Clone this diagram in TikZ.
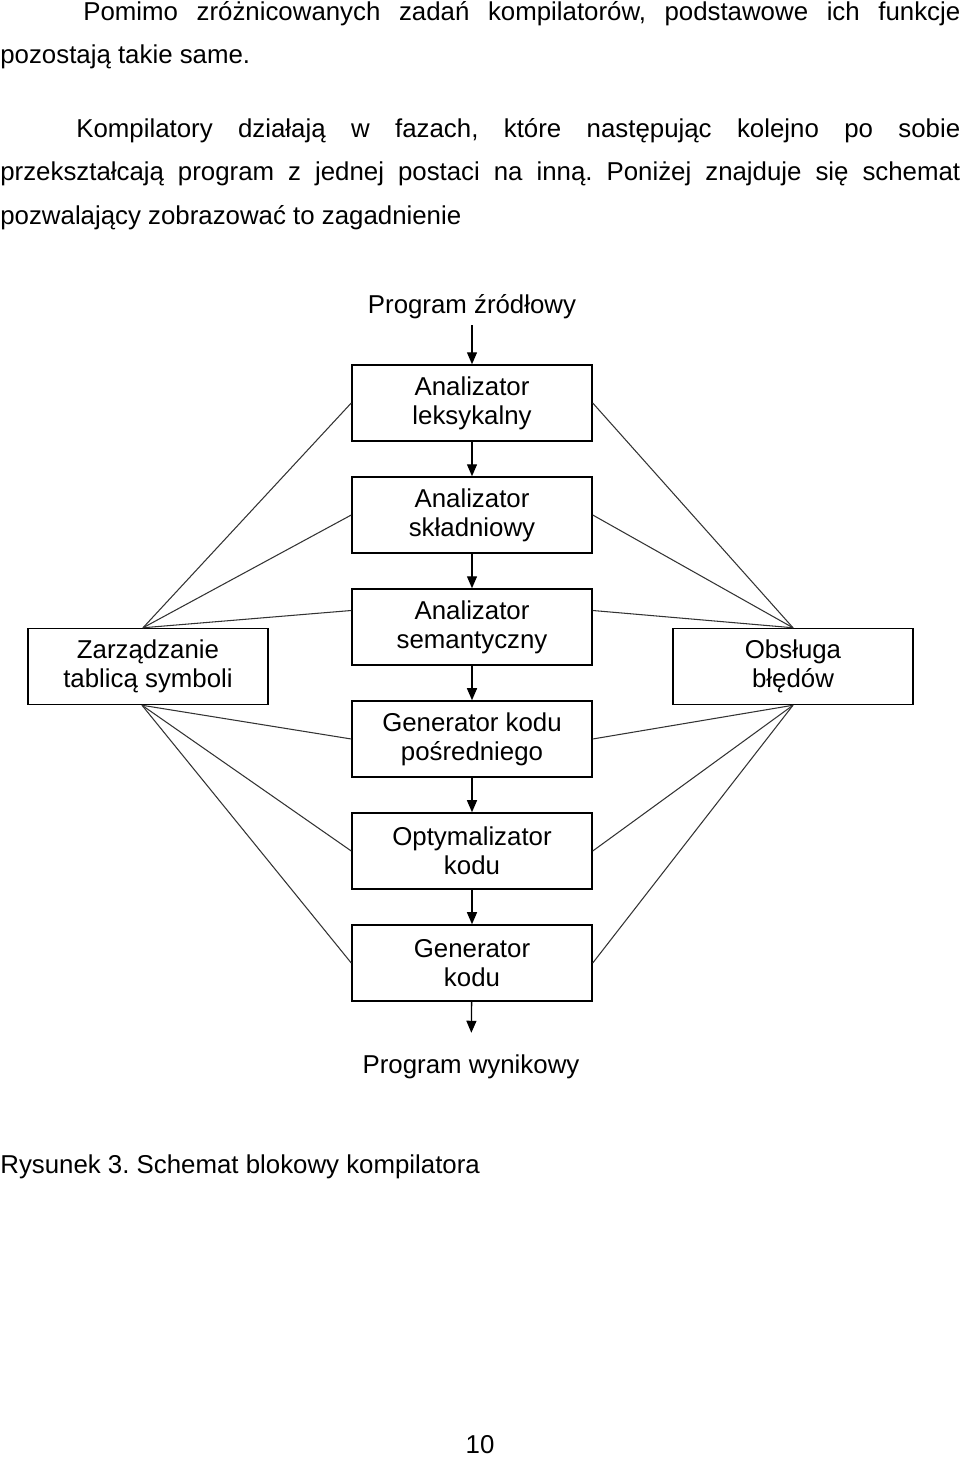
\documentclass[tikz,border=0pt]{standalone}
\usepackage{fontspec}
\setmainfont{Liberation Sans}
\usetikzlibrary{positioning,arrows.meta}
\frenchspacing

\begin{document}
\begin{tikzpicture}[font=\fontsize{14.7}{16.5}\selectfont,
phase/.style={draw, line width=0.85pt, minimum width=4.8cm, minimum height=1.52cm, align=center, inner sep=0pt},
flow/.style={line width=0.75pt, -{Triangle[length=0.24cm,width=0.2cm]}},
link/.style={line width=0.6pt, black!80},
prose/.style={inner sep=0pt, font=\fontsize{14.7}{25}\selectfont},
para/.style={prose, anchor=base west, text width=19.2cm, align=justify},
node distance=0.69cm]
\useasboundingbox (0,0) rectangle (19.2,-29.2);
\node [para] (intro) at (0,-0.40) {\hyphenpenalty=10000\hspace*{1.66cm}Pomimo zróżnicowanych zadań kompilatorów, podstawowe ich funkcje\linebreak pozostają takie same.};
\node [para] (body) at (0,-2.74) {\hyphenpenalty=10000\hspace*{1.52cm}Kompilatory działają w fazach, które następując kolejno po sobie\linebreak przekształcają program z jednej postaci na inną. Poniżej znajduje się schemat\linebreak pozwalający zobrazować to zagadnienie};
\node [phase] (lex) at (9.44,-8.06) {Analizator\\leksykalny};
\node [phase, below=of lex] (skl) {Analizator\\składniowy};
\node [phase, below=of skl] (sem) {Analizator\\semantyczny};
\node [phase, below=of sem] (posr) {Generator kodu\\pośredniego};
\node [phase, below=of posr] (opt) {Optymalizator\\kodu};
\node [phase, below=of opt] (gen) {Generator\\kodu};
\node (src) at (9.44,-6.14) {Program źródłowy};
\node (out) at (9.42,-21.34) {Program wynikowy};
\node [phase] (tab) at (2.96,-13.33) {Zarządzanie\\tablicą symboli};
\node [phase] (err) at (15.86,-13.33) {Obsługa\\błędów};
\draw [flow] (src) -- (lex);
\foreach \a/\b in {lex/skl, skl/sem, sem/posr, posr/opt, opt/gen}
	\draw [flow] (\a) -- (\b);
\draw [flow, shorten >=0.32cm] (gen) -- (out);
\foreach \b in {lex, skl}{
	\draw [link] ([xshift=-0.1cm]tab.north) -- (\b.west);
	\draw [link] (err.north) -- (\b.east);}
\draw [link] ([xshift=-0.1cm]tab.north) -- ([yshift=0.33cm]sem.west);
\draw [link] (err.north) -- ([yshift=0.33cm]sem.east);
\foreach \b in {posr, opt, gen}{
	\draw [link] ([xshift=-0.12cm]tab.south) -- (\b.west);
	\draw [link] (err.south) -- (\b.east);}
\node [prose, anchor=base west] (caption) at (0,-23.46) {Rysunek 3. Schemat blokowy kompilatora};
\node [prose, anchor=base] (page) at (9.6,-29.06) {10};
\end{tikzpicture}
\end{document}
